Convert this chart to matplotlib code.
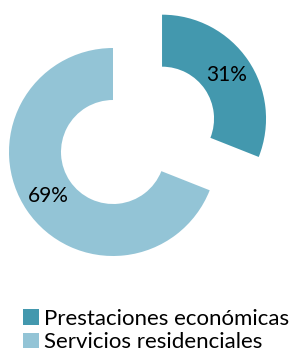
import matplotlib
matplotlib.use("Agg")
import matplotlib.pyplot as plt
from matplotlib.patches import Patch

categories = ["Prestaciones económicas", "Servicios residenciales"]
values = [31, 69]
colors = ["#4398AE", "#93C4D6"]

W, H = 291, 355
fig = plt.figure(figsize=(W / 100, H / 100), dpi=100)
ax = fig.add_axes([0, 0, 1, 1])

R_PX = 104.0
cx, cy = 113.0, 152.0
ax.pie(values, colors=colors, startangle=90, counterclock=False,
       explode=[0.57, 0], radius=1.0,
       wedgeprops=dict(width=0.5, edgecolor="none"),
       autopct="%d%%", pctdistance=0.75,
       textprops=dict(fontsize=15, family="Lato", color="black"))
ax.set_xlim(-cx / R_PX, (W - cx) / R_PX)
ax.set_ylim(-(H - cy) / R_PX, cy / R_PX)
ax.set_aspect("equal")
ax.axis("off")

handles = [Patch(facecolor=c, edgecolor="none") for c in colors]
fig.legend(handles, categories, loc="upper left",
           bbox_to_anchor=(23 / W, 1 - 309 / H), frameon=False,
           prop=dict(family="Lato", size=16),
           handlelength=0.7, handleheight=0.7, handletextpad=0.25,
           labelspacing=0.15, borderpad=0, borderaxespad=0)

fig.savefig("out.png", dpi=100)
